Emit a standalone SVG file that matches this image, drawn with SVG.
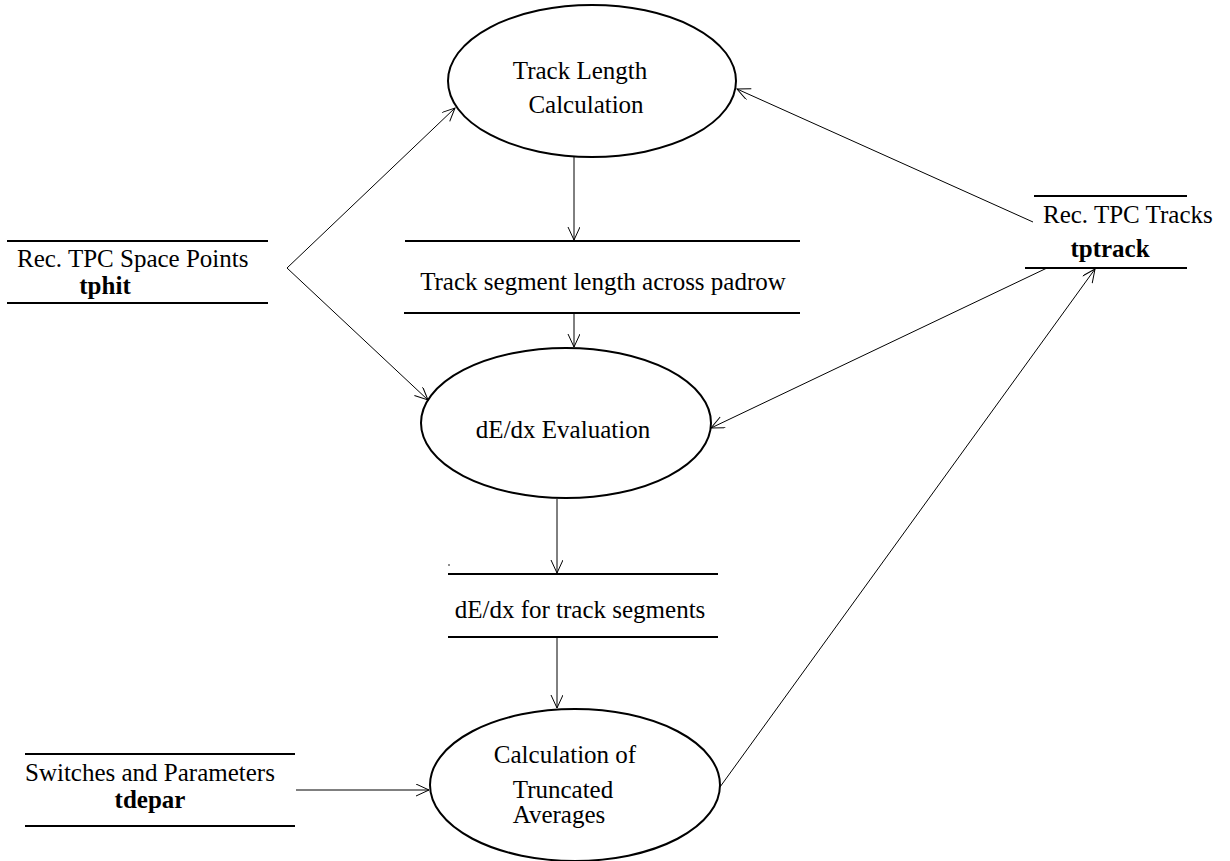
<svg xmlns="http://www.w3.org/2000/svg" width="1230" height="861" viewBox="0 0 1230 861">
  <style>
    text { font-family: "Liberation Serif", "Times New Roman", serif; font-size: 25px; fill: #000; }
    .b { font-weight: bold; }
    .proc { fill: none; stroke: #000; stroke-width: 2; }
    .store { stroke: #000; stroke-width: 2; fill: none; }
    .flow { stroke: #000; stroke-width: 1; fill: none; marker-end: url(#arrow); }
  </style>
  <defs>
    <marker id="arrow" markerUnits="userSpaceOnUse" markerWidth="16" markerHeight="14" refX="14" refY="6" orient="auto">
      <path d="M1,0 L14,6 L1,12" fill="none" stroke="#000" stroke-width="1"/>
    </marker>
  </defs>
  <rect width="1230" height="861" fill="#fff"/>

  <!-- processes -->
  <g id="track-length">
    <ellipse class="proc" cx="592" cy="81" rx="144" ry="76"/>
    <text x="580" y="79" text-anchor="middle">Track Length</text>
    <text x="586" y="113" text-anchor="middle">Calculation</text>
  </g>
  <g id="dedx-eval">
    <ellipse class="proc" cx="566" cy="423" rx="145" ry="75"/>
    <text x="563" y="438" text-anchor="middle">dE/dx Evaluation</text>
  </g>
  <g id="trunc-avg">
    <ellipse class="proc" cx="575" cy="785" rx="145" ry="76"/>
    <text x="565" y="763" text-anchor="middle">Calculation of</text>
    <text x="563" y="798" text-anchor="middle">Truncated</text>
    <text x="559" y="823" text-anchor="middle">Averages</text>
  </g>

  <!-- data stores -->
  <g id="tphit">
    <line class="store" x1="7" y1="241" x2="268" y2="241"/>
    <line class="store" x1="7" y1="303" x2="268" y2="303"/>
    <text x="17" y="267">Rec. TPC Space Points</text>
    <text class="b" x="105" y="294" text-anchor="middle">tphit</text>
  </g>
  <g id="tptrack">
    <line class="store" x1="1034" y1="196" x2="1187" y2="196"/>
    <line class="store" x1="1025" y1="268" x2="1187" y2="268"/>
    <text x="1043" y="223">Rec. TPC Tracks</text>
    <text class="b" x="1110" y="257" text-anchor="middle">tptrack</text>
  </g>
  <g id="segment-length">
    <line class="store" x1="405" y1="241" x2="800" y2="241"/>
    <line class="store" x1="404" y1="313" x2="800" y2="313"/>
    <text x="603" y="290" text-anchor="middle">Track segment length across padrow</text>
  </g>
  <g id="segment-dedx">
    <line class="store" x1="448" y1="574" x2="718" y2="574"/>
    <line class="store" x1="448" y1="637" x2="718" y2="637"/>
    <text x="580" y="618" text-anchor="middle">dE/dx for track segments</text>
    <circle cx="449" cy="565" r="0.8" fill="#000"/>
  </g>
  <g id="tdepar">
    <line class="store" x1="25" y1="754" x2="295" y2="754"/>
    <line class="store" x1="25" y1="826" x2="295" y2="826"/>
    <text x="25" y="781">Switches and Parameters</text>
    <text class="b" x="150" y="808" text-anchor="middle">tdepar</text>
  </g>

  <!-- data flows -->
  <g id="connectors">
    <line class="flow" x1="287" y1="268" x2="455" y2="108"/>
    <line class="flow" x1="287" y1="268" x2="428" y2="400"/>
    <line class="flow" x1="1033" y1="222" x2="737" y2="89"/>
    <line class="flow" x1="1047" y1="268" x2="711" y2="428"/>
    <line class="flow" x1="720" y1="787" x2="1095" y2="269"/>
    <line class="flow" x1="574" y1="157" x2="574" y2="240"/>
    <line class="flow" x1="574" y1="314" x2="574" y2="347"/>
    <line class="flow" x1="557" y1="499" x2="557" y2="573"/>
    <line class="flow" x1="557" y1="638" x2="557" y2="708"/>
    <line class="flow" x1="296" y1="790" x2="429" y2="790"/>
  </g>
</svg>
